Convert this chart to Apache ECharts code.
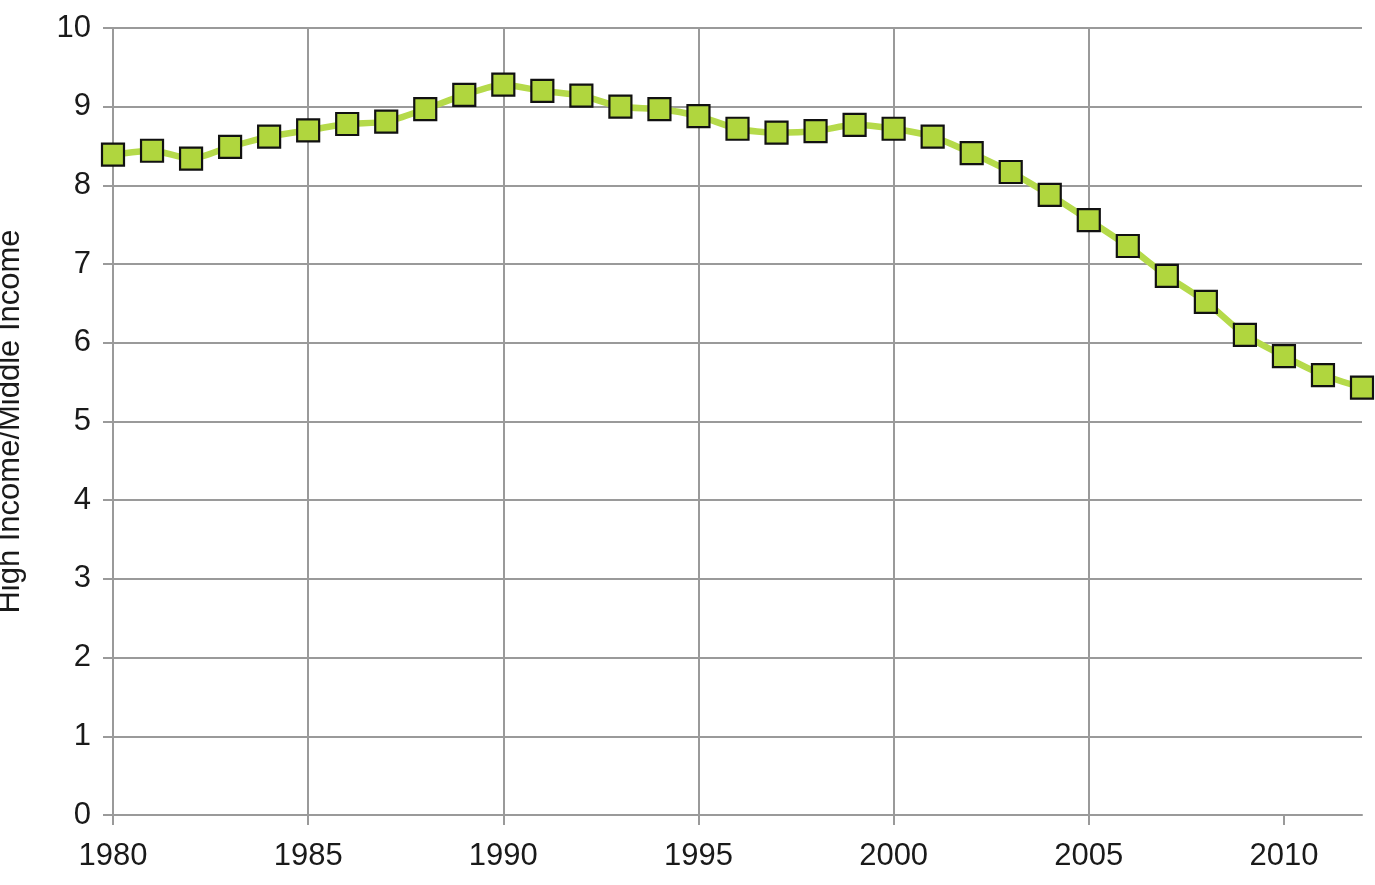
<!DOCTYPE html>
<html>
<head>
<meta charset="utf-8">
<script src="https://cdn.jsdelivr.net/npm/echarts@6/dist/echarts.min.js"></script>
<style>
  html, body { margin: 0; padding: 0; background: #fff; overflow: hidden; }
  #chart { width: 1375px; height: 885px; }
</style>
</head>
<body>
<div id="chart"></div>
<script>
// years and ratio values
let years = [1980, 1981, 1982, 1983, 1984, 1985, 1986, 1987, 1988, 1989,
             1990, 1991, 1992, 1993, 1994, 1995, 1996, 1997, 1998, 1999,
             2000, 2001, 2002, 2003, 2004, 2005, 2006, 2007, 2008, 2009,
             2010, 2011, 2012]
let ratio = [8.39, 8.44, 8.34, 8.49, 8.62, 8.70, 8.78, 8.81, 8.97, 9.15,
             9.28, 9.20, 9.14, 9.00, 8.97, 8.88, 8.72, 8.67, 8.69, 8.77,
             8.72, 8.62, 8.41, 8.17, 7.88, 7.56, 7.23, 6.85, 6.52, 6.10,
             5.83, 5.59, 5.43]
let xTicks = [1980, 1985, 1990, 1995, 2000, 2005, 2010]
let yName = 'High Income/Middle Income'

let gridColor = '#9a9a9a'
let font = 'Liberation Sans'

let options = {
  animation: false,
  grid: { left: 113, right: 13, top: 28, bottom: 70, outerBoundsMode: 'none' },
  xAxis: {
    type: 'value',
    min: 1980,
    max: 2012,
    interval: 5,
    axisLine: { show: true, lineStyle: { color: gridColor, width: 2 } },
    axisTick: { show: true, length: 10, customValues: xTicks,
                lineStyle: { color: gridColor, width: 2 } },
    splitLine: { show: true, showMaxLine: false, lineStyle: { color: gridColor, width: 2 } },
    axisLabel: {
      color: '#1a1a1a', fontSize: 31, fontFamily: font, margin: 26,
      customValues: xTicks,
      formatter: function(v) { return String(v) }
    }
  },
  yAxis: {
    type: 'value',
    min: 0,
    max: 10,
    interval: 1,
    name: yName,
    nameLocation: 'middle',
    nameGap: 87,
    nameTextStyle: { color: '#1a1a1a', fontSize: 31, fontFamily: font },
    axisLine: { show: false },
    axisTick: { show: true, length: 10, lineStyle: { color: gridColor, width: 2 } },
    splitLine: { show: true, lineStyle: { color: gridColor, width: 2 } },
    axisLabel: { color: '#1a1a1a', fontSize: 31, fontFamily: font, margin: 22 }
  },
  series: [{
    type: 'line',
    data: years.map((y, i) => [y, ratio[i]]),
    smooth: 0.25,
    symbol: 'rect',
    symbolSize: 22,
    lineStyle: { color: '#b5da4a', width: 6.5 },
    itemStyle: { color: '#b0d63e', borderColor: '#111', borderWidth: 2.2 }
  }]
}

let setChart = function(ele, opts) {
  let myChart = echarts.init(ele)
  myChart.setOption(opts)
  return myChart
}
setChart(document.getElementById('chart'), options)
</script>
</body>
</html>
